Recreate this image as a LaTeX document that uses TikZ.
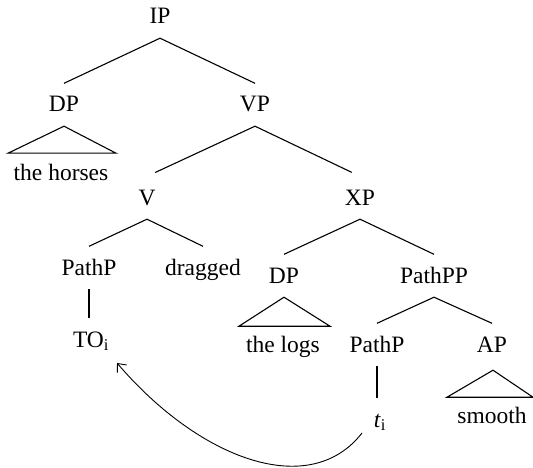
\documentclass[tikz,border=0pt]{standalone}
\usepackage{fontspec}
\setmainfont{Liberation Serif}
\usetikzlibrary{calc,arrows.meta}
\begin{document}
\begin{tikzpicture}[x=1pt,y=-1pt,
  lbl/.style={anchor=base, font=\fontsize{23.5}{28}\selectfont,
    inner xsep=0pt, inner ysep=14pt, text height=14.5pt, text depth=0pt},
  branch/.style={line width=1.1pt},
  movement/.style={line width=0.9pt, -{Straight Barb[length=7pt,width=12pt]}}]
\useasboundingbox (0,0) rectangle (533,468);

% labels of the tree
\node[lbl] (ip)      at (160,24)  {IP};
\node[lbl] (dp)      at (64,112)  {DP};
\node[lbl] (vp)      at (255,112) {VP};
\node[lbl] (horses)  at (61,180)  {the horses};
\node[lbl] (v)       at (147,205) {V};
\node[lbl] (xp)      at (360,205) {XP};
\node[lbl] (pathA)   at (89,275)  {PathP};
\node[lbl] (dragged) at (203,275) {dragged};
\node[lbl] (dpB)     at (284,283) {DP};
\node[lbl] (pathpp)  at (434,283) {PathPP};
\node[lbl] (to)      at (91,347)  {TO\textsubscript{i}};
\node[lbl] (logs)    at (283,352) {the logs};
\node[lbl] (pathB)   at (377,352) {PathP};
\node[lbl] (ap)      at (492,352) {AP};
\node[lbl] (t)       at (380,427) {\textit{t}\textsubscript{i}};
\node[lbl] (smooth)  at (492,423) {smooth};

% branches
\draw[branch] (ip.south) -- (dp.north);
\draw[branch] (ip.south) -- (vp.north);
\draw[branch, shorten >=9pt] (vp.south) -- (v.north);
\draw[branch, shorten >=9pt] (vp.south) -- (xp.north);
\draw[branch] (v.south) -- (pathA.north);
\draw[branch] (v.south) -- (dragged.north);
\draw[branch] (xp.south) -- (dpB.north);
\draw[branch] (xp.south) -- (pathpp.north);
\draw[branch] (pathpp.south) -- (pathB.north);
\draw[branch] (pathpp.south) -- (ap.north);
\draw[branch] (pathA.south) -- (pathA.south |- to.north);
\draw[branch] (pathB.south) -- (pathB.south |- t.north);

% roofs over unanalysed phrases
\draw[branch, line join=miter] (dp.south) -- ++(-56,27) -- ++(108,0) -- cycle;
\draw[branch, line join=miter] (dpB.south) -- ++(-45,29) -- ++(91,0) -- cycle;
\draw[branch, line join=miter] ($(ap.south)+(1,4)$) -- ++(-46,27) -- ++(86,0) -- cycle;

% movement of the trace to TO
\draw[movement] ($(t.base)+(-18,6)$) .. controls (310,500) and (200,460) .. ($(to.base)+(26,16)$);
\end{tikzpicture}
\end{document}
